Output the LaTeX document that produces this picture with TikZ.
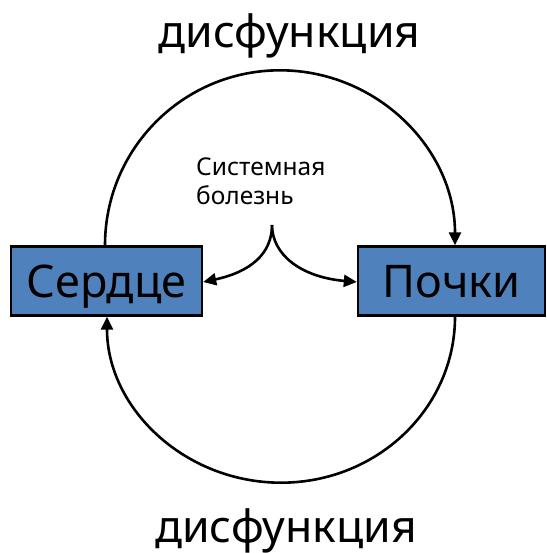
\documentclass[tikz,border=0pt]{standalone}
\usepackage{fontspec}
\setmainfont{Noto Sans}
\usetikzlibrary{arrows.meta}
\definecolor{boxblue}{HTML}{4F81BD}
\tikzset{
  organ/.style={draw=black, line width=2.4pt, fill=boxblue, inner sep=0pt, text height=32.5pt, text depth=0pt, font=\fontsize{45}{50}\selectfont},
  arr/.style={line width=2.6pt, -{Triangle[length=13pt,width=12pt]}},
  bigtext/.style={font=\fontsize{44.5}{48}\selectfont, inner sep=0pt, anchor=base},
}
\begin{document}
\begin{tikzpicture}[x=1pt,y=-1pt]
\useasboundingbox (0,0) rectangle (546,553);
\node[organ, minimum width=191pt, minimum height=69pt] (S) at (106.5,281) {Сердце};
\node[organ, minimum width=187pt, minimum height=69pt] (P) at (451.5,281) {Почки};
\node[bigtext] (T) at (289.5,48) {дисфункция};
\node[bigtext] (B) at (286,542) {дисфункция};
\node[anchor=north west, align=left, inner sep=0pt, font=\fontsize{24.5}{28.5}\selectfont] (D) at (196,158) {Системная\\болезнь};
\coordinate (apex) at (272,225);
\coordinate (s1) at (S.north -| 105,0);
\coordinate (p2) at (P.south -| 455,0);
% top arc
\draw[arr] (s1) arc[start angle=180, end angle=360, radius=175];
% bottom arc
\draw[arr] (p2) arc[start angle=0, end angle=180, x radius=174, y radius=166];
% brace arrows
\draw[arr] (apex) .. controls (272,254) and (250,272) .. ([yshift=-1pt]S.east);
\draw[arr] (apex) .. controls (272,254) and (300,277) .. ([yshift=-1pt]P.west);
\end{tikzpicture}
\end{document}
